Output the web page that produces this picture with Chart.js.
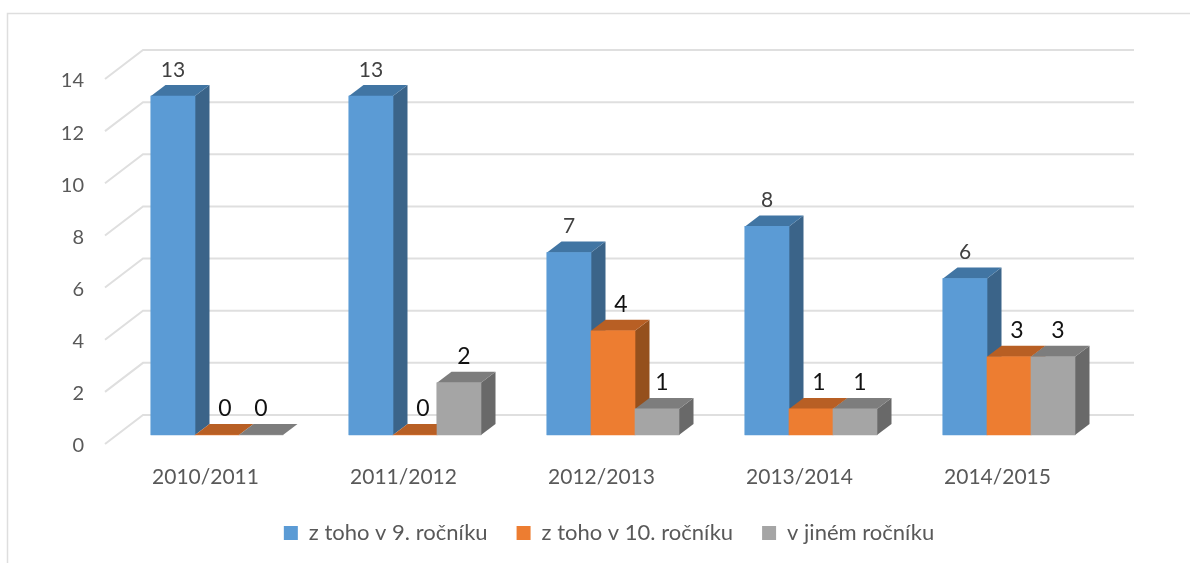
<!DOCTYPE html>
<html><head><meta charset="utf-8">
<style>html,body{margin:0;padding:0;background:#fff}canvas{display:block}</style>
<script src="https://cdn.jsdelivr.net/npm/chart.js@4"></script>
</head><body><canvas id="c" width="1190" height="563"></canvas>
<script>
const categories = ['2010/2011','2011/2012','2012/2013','2013/2014','2014/2015'];
const grade9 = [13,13,7,8,6];
const grade10 = [0,0,4,1,3];
const otherGrade = [0,2,1,1,3];
const seriesNames = ['z toho v 9. ročníku','z toho v 10. ročníku','v jiném ročníku'];
const frontColors = ['#5B9BD5','#ED7D31','#A5A5A5'];
const topColors = ['#4175A3','#B85F24','#7D7D7D'];
const sideColors = ['#3B6489','#95501D','#696969'];
const labelColors = ['#404040','#111111','#111111'];
const labelSizes = [21,23,23];
const labelShift = [0,8,5];
const FONT = 'Lato, "Open Sans", sans-serif';
const DX = 14.5, DY = -11;

const decor = {
  id:'decor',
  afterLayout(chart){
    const l = chart.legend;
    l.left += 55; l.right += 55;
    l.top = 493; l.bottom = l.top + l.height;
  },
  beforeDatasetsDraw(chart){
    const {ctx, scales:{y}} = chart;
    ctx.save();
    ctx.strokeStyle = '#DEDEDE'; ctx.lineWidth = 1.5;
    ctx.beginPath(); ctx.moveTo(7.5,563); ctx.lineTo(7.5,13.5); ctx.lineTo(1190,13.5); ctx.stroke();
    ctx.strokeStyle = '#DFDFDF'; ctx.lineWidth = 2;
    y.ticks.forEach(t=>{
      const p = y.getPixelForValue(t.value);
      ctx.beginPath(); ctx.moveTo(105,p+9); ctx.lineTo(143,p-20); ctx.lineTo(1134,p-20); ctx.stroke();
    });
    ctx.restore();
  },
  afterDatasetsDraw(chart){
    const {ctx} = chart;
    ctx.save();
    chart.data.datasets.forEach((ds,i)=>{
      chart.getDatasetMeta(i).data.forEach(b=>{
        const w = b.width, l = b.x-w/2, r = b.x+w/2, t = b.y, base = b.base;
        ctx.fillStyle = sideColors[i];
        ctx.beginPath(); ctx.moveTo(r,t); ctx.lineTo(r+DX,t+DY); ctx.lineTo(r+DX,base+DY); ctx.lineTo(r,base); ctx.closePath(); ctx.fill();
        ctx.fillStyle = topColors[i];
        ctx.beginPath(); ctx.moveTo(l,t); ctx.lineTo(l+DX,t+DY); ctx.lineTo(r+DX,t+DY); ctx.lineTo(r,t); ctx.closePath(); ctx.fill();
        b.draw(ctx);
      });
    });
    ctx.textAlign='center'; ctx.textBaseline='middle';
    chart.data.datasets.forEach((ds,i)=>{
      ctx.fillStyle = labelColors[i];
      ctx.font = labelSizes[i]+'px '+FONT;
      chart.getDatasetMeta(i).data.forEach((b,k)=>{
        const shift = (i===2 && k===0) ? 0 : labelShift[i];
        ctx.fillText(String(ds.data[k]), b.x+shift, b.y-26);
      });
    });
    ctx.restore();
  }
};

new Chart(document.getElementById('c'),{
  type:'bar',
  data:{labels:categories,datasets:[
    {label:seriesNames[0],data:grade9,backgroundColor:frontColors[0],barThickness:44},
    {label:seriesNames[1],data:grade10,backgroundColor:frontColors[1],barThickness:44},
    {label:seriesNames[2],data:otherGrade,backgroundColor:frontColors[2],barThickness:44}
  ]},
  options:{
    responsive:false,animation:false,
    layout:{padding:{left:0,right:82,top:70,bottom:0}},
    plugins:{
      tooltip:{enabled:false},
      legend:{position:'bottom',labels:{boxWidth:14,boxHeight:14,padding:29,color:'#595959',font:{family:FONT,size:22}}}
    },
    scales:{
      x:{grid:{display:false,drawTicks:false},border:{display:false},
        afterFit(s){s.height=67;},
        ticks:{color:'#595959',font:{family:FONT,size:21},padding:30,labelOffset:-11.5,maxRotation:0}},
      y:{min:0,max:14,grid:{display:false,drawTicks:false},border:{display:false},
        afterFit(s){s.width=118;},
        ticks:{stepSize:2,color:'#595959',font:{family:FONT,size:20},padding:34,labelOffset:11}}
    }
  },
  plugins:[decor]
});
</script></body></html>
